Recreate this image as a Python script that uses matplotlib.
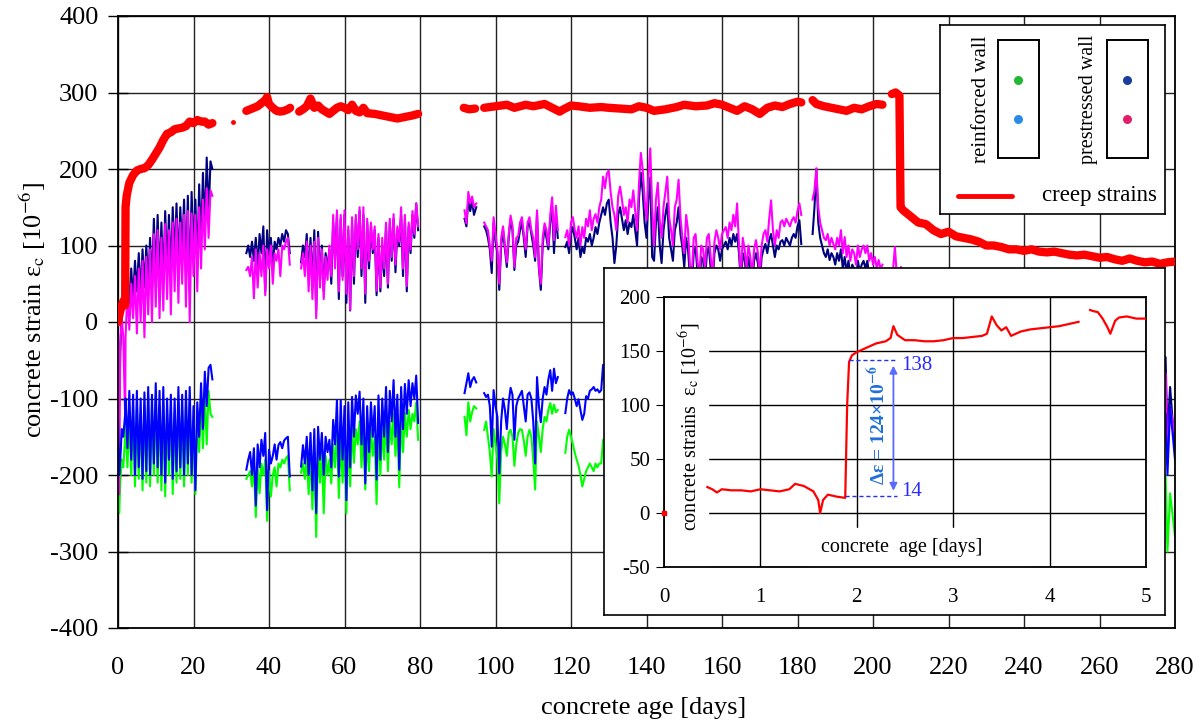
import numpy as np
import matplotlib
matplotlib.use('Agg')
import matplotlib.pyplot as plt
from matplotlib.patches import Rectangle

# ---------------- data (concrete age [days], strain [1e-6]) ----------------
# first block, settling part (irregular sampling)
days_a0 = [0.0, 0.3, 0.6, 1.0, 1.4, 1.9]
navy_a0 = [-60, -110, -40, 10, 20, 30]
magenta_a0 = [0, -225, -30, 5, -20, -128]
blue_a0 = [-130, -200, -180, -140, -150, -120]
green_a0 = [-160, -250, -210, -180, -190, -150]

# readings every half day, block A starts at day 2
navy_a = [30, 60, 25, 70, 30, 80, 40, 90, 35, 95, 45, 100, 50, 110, 45, 135, 60, 140, 55, 130,
          50, 145, 70, 140, 60, 150, 80, 155, 70, 150, 90, 160, 60, 165, 40, 170, 90, 160, 70, 180,
          100, 195, 120, 215, 140, 210, 200]
magenta_a = [-20, 40, -10, 50, 5, 60, -15, 70, 0, 80, -20, 85, 10, 95, 0, 115, 20, 120, 5, 110,
             15, 128, 30, 120, 10, 130, 40, 135, 25, 130, 50, 140, 20, 145, 0, 142, 60, 140, 40, 150,
             70, 160, 95, 175, 110, 172, 165]
blue_a = [-100, -165, -90, -180, -95, -200, -90, -190, -100, -205, -92, -195, -85, -200, -95, -185,
          -80, -190, -90, -200, -85, -210, -100, -180, -95, -205, -100, -195, -85, -190, -95, -200,
          -90, -185, -85, -200, -110, -220, -105, -150, -80, -140, -65, -110, -60, -56, -75]
green_a = [-130, -190, -120, -200, -115, -215, -110, -205, -120, -220, -110, -210, -100, -215, -115,
           -200, -95, -210, -110, -220, -105, -228, -120, -200, -115, -225, -120, -210, -105, -205,
           -115, -215, -110, -200, -105, -210, -130, -225, -125, -170, -100, -165, -95, -160, -90,
           -120, -124]

# block B starts at day 34
navy_b = [90, 100, 85, 105, 80, 110, 70, 115, 90, 125, 40, 120, 85, 110, 70, 105, 95, 110, 100, 115,
          105, 120, 115, 90]
magenta_b = [68, 72, 60, 85, 31, 95, 45, 90, 60, 100, 35, 95, 70, 100, 50, 90, 80, 95, 60, 100,
             95, 105, 110, 75]
blue_b = [-193, -180, -170, -200, -165, -240, -160, -190, -154, -175, -145, -246, -167, -185, -175,
          -160, -180, -161, -157, -165, -155, -152, -150, -202]
green_b = [-205, -200, -195, -215, -190, -255, -190, -224, -185, -200, -180, -260, -195, -228, -200,
           -190, -215, -185, -190, -180, -185, -178, -175, -220]

# block C starts at day 48.5
navy_c = [78, 100, 85, 115, 60, 110, 45, 120, 15, 118, 60, 100, 40, 90, 70, 95, 50, 130, 80, 140,
          30, 135, 60, 140, 25, 120, 15, 130, 50, 135, 85, 145, 60, 140, 25, 130, 70, 125, 90, 120,
          35, 110, 40, 100, 60, 125, 45, 130, 80, 135, 65, 120, 100, 140, 60, 135, 40, 125, 90, 140,
          110, 155, 120]
magenta_c = [70, 90, 60, 105, 40, 100, 30, 105, 5, 110, 45, 95, 30, 85, 55, 100, 60, 140, 70, 146,
             40, 140, 55, 146, 37, 125, 16, 137, 60, 140, 95, 150, 70, 150, 37, 135, 80, 130, 95, 125,
             41, 115, 45, 110, 70, 130, 50, 135, 85, 141, 75, 125, 105, 150, 70, 140, 47, 130, 95, 145,
             115, 155, 125]
blue_c = [-189, -161, -185, -150, -200, -145, -220, -140, -250, -137, -180, -145, -200, -150, -170,
          -154, -190, -128, -160, -102, -202, -102, -180, -110, -233, -105, -190, -98, -150, -96,
          -120, -91, -160, -100, -211, -110, -170, -105, -150, -110, -206, -96, -180, -100, -150,
          -85, -170, -90, -130, -76, -150, -95, -193, -85, -140, -81, -120, -76, -110, -80, -100,
          -70, -132]
green_c = [-197, -185, -205, -175, -225, -170, -245, -165, -281, -160, -210, -170, -250, -175, -200,
           -180, -211, -160, -190, -140, -230, -150, -210, -150, -250, -140, -215, -135, -184, -140,
           -160, -130, -190, -140, -219, -150, -195, -140, -175, -150, -238, -130, -200, -140, -180,
           -125, -195, -130, -160, -120, -175, -130, -216, -125, -170, -119, -150, -115, -140, -120,
           -130, -105, -154]

# block D, short run
days_d = [91.8, 92.3, 92.8, 93.3, 93.8, 94.3, 94.9]
navy_d = [135, 125, 160, 145, 158, 140, 150]
magenta_d = [146, 129, 170, 155, 164, 150, 155]
blue_d = [-93, -80, -67, -85, -76, -72, -79]
green_d = [-124, -148, -105, -130, -118, -110, -113]

# block E1 starts at day 97
navy_e1 = [125, 120, 110, 95, 64, 130, 105, 90, 42, 100, 120, 95, 72, 110, 135, 120, 68, 100, 105, 120,
           130, 110, 85, 125, 130, 115, 100, 80, 140, 70, 42, 100, 125, 110, 95, 130, 150, 90, 140, 110]
magenta_e1 = [130, 125, 120, 100, 80, 137, 115, 95, 50, 110, 125, 100, 78, 115, 139, 125, 72, 110, 112,
              130, 137, 115, 95, 130, 137, 120, 110, 85, 146, 72, 50, 110, 129, 120, 100, 140, 163, 107,
              152, 120]
blue_e1 = [-93, -98, -95, -110, -163, -89, -110, -124, -198, -130, -100, -115, -140, -105, -86, -95,
           -154, -110, -100, -95, -90, -110, -130, -95, -92, -100, -130, -185, -72, -110, -131, -100,
           -85, -95, -75, -63, -90, -61, -80, -72]
green_e1 = [-141, -130, -150, -170, -202, -140, -160, -180, -237, -170, -150, -160, -175, -145, -141,
            -150, -188, -160, -145, -140, -141, -155, -175, -150, -141, -150, -180, -219, -130, -150,
            -170, -140, -124, -130, -115, -106, -120, -108, -118, -115]

# block E2 starts at day 118.5 (upper walls)
navy_e2 = [98, 105, 90, 115, 124, 110, 95, 110, 85, 98,
           90, 110, 105, 115, 100, 110, 124, 115, 130, 140,
           150, 140, 155, 160, 130, 110, 77, 100, 140, 150,
           135, 120, 133, 115, 130, 124, 140, 120, 100, 160,
           195, 170, 130, 110, 160, 189, 85, 80, 130, 150,
           100, 77, 120, 140, 155, 110, 95, 80, 120, 130,
           150, 115, 98, 72, 110, 95, 60, 45, 90, 98,
           65, 45, 85, 80, 55, 90, 98, 70, 50, 90,
           100, 95, 80, 95, 100, 105, 95, 110, 100, 115,
           105, 115, 90, 50, 90, 81, 60, 85, 70, 50,
           80, 90, 77, 50, 85, 95, 102, 90, 107, 115,
           100, 85, 100, 95, 105, 107, 100, 110, 105, 100,
           110, 115, 110, 125, 133, 102]
magenta_e2 = [111, 120, 100, 130, 137, 120, 110, 125, 100, 124,
              110, 135, 125, 146, 120, 135, 141, 130, 150, 160,
              190, 175, 194, 198, 170, 150, 140, 120, 165, 177,
              160, 140, 150, 130, 160, 150, 172, 145, 120, 180,
              221, 199, 160, 133, 190, 227, 150, 100, 160, 182,
              133, 110, 150, 170, 190, 137, 120, 100, 150, 160,
              186, 137, 110, 90, 140, 120, 75, 60, 110, 115,
              80, 60, 100, 95, 70, 110, 115, 85, 60, 105,
              120, 110, 95, 115, 120, 124, 110, 130, 120, 140,
              125, 155, 100, 60, 110, 95, 70, 100, 85, 60,
              95, 107, 90, 60, 100, 115, 120, 105, 135, 159,
              120, 100, 120, 110, 130, 133, 125, 135, 130, 125,
              133, 137, 130, 145, 155, 140]
# lower walls from day 118.5
blue_e2 = [-119, -100, -89, -95, -92, -100, -110, -101, -115, -128,
           -120, -97, -100, -90, -88, -85, -90, -88, -92, -89,
           -56, -80, -90, -85]
green_e2 = [-171, -150, -141, -150, -160, -171, -180, -188, -200, -215,
            -205, -195, -190, -185, -190, -195, -185, -190, -185, -185,
            -154, -180, -190, -185]

# block E3 starts at day 184 (upper walls)
navy_e3 = [115, 150, 200, 130, 110, 100, 90, 85, 95, 81, 90, 85, 75, 90, 80, 95, 70, 85, 65, 80,
           60, 75, 70, 55, 80, 65, 75, 80, 70, 80, 60, 70, 55, 65, 50, 60, 50, 55]
magenta_e3 = [160, 172, 201, 150, 130, 120, 110, 107, 115, 100, 110, 102, 95, 110, 100, 120, 90, 111,
              85, 100, 80, 95, 90, 75, 100, 85, 95, 100, 90, 100, 80, 90, 75, 85, 70, 81, 70, 75]

# remaining upper readings (mostly behind the inset)
days_e4 = [203.5, 205.0, 205.8, 206.6, 207.4, 208.2, 215, 235, 255, 275.0, 277.5, 278.0, 278.7, 280.0]
navy_e4 = [30, 40, 50, 30, 40, 20, 10, 0, -10, -40, -46, -150, -85, -170]
magenta_e4 = [40, 50, 98, 40, 72, 30, 20, 10, 0, -60, -67, -180, -110, -150]
days_tail = [275.0, 277.5, 278.0, 278.7, 280.0]
blue_tail = [-100, -120, -200, -110, -180]
green_tail = [-190, -200, -300, -224, -280]

# creep strains (red)
red_a_days = [0, 0.5, 1, 1.5, 1.9, 2.0, 2.3, 3, 4, 5, 6, 7, 8, 9, 10, 11, 12, 13, 14, 15,
              16, 17, 18, 19, 20, 21, 22, 23, 24, 25]
red_a = [0, 12, 22, 28, 22, 150, 165, 182, 192, 198, 200, 201, 205, 212, 220, 228, 238, 246, 248, 252,
         253, 254, 256, 262, 260, 264, 262, 262, 258, 260]
red_dot_day = [30.5]
red_dot = [261]
red_b_days = [34, 35, 36, 37, 38, 39, 39.5, 40, 41, 42, 43, 44, 45, 45.6]
red_b = [276, 278, 280, 282, 286, 290, 294, 285, 280, 276, 275, 276, 278, 280]
red_c_days = [48, 49, 50, 51, 52, 53, 54, 55, 56, 57, 58, 59, 60, 61, 62, 63, 64, 65, 66,
              68, 70, 72, 74, 76, 78, 79.5]
red_c = [275, 278, 282, 292, 280, 283, 278, 275, 272, 276, 280, 282, 280, 277, 284, 276, 274, 280, 273,
         272, 270, 268, 266, 268, 270, 272]
red_d_days = [91.6, 93.0, 94.6]
red_d = [280, 278, 279]
red_e_days = [97, 100, 103, 105, 108, 110, 113, 115, 117, 118, 120, 122, 125, 128, 130, 133, 136, 138,
              140, 142, 145, 148, 150, 153, 156, 158, 160, 162, 164, 166, 168, 170, 172, 174, 176, 178,
              180, 181]
red_e = [280, 282, 284, 280, 284, 282, 285, 280, 275, 278, 283, 282, 280, 281, 280, 279, 278, 282,
         280, 276, 278, 281, 284, 282, 283, 286, 284, 280, 276, 282, 278, 272, 280, 283, 281, 285,
         288, 287]
red_f_days = [184, 185, 187, 189, 191, 193, 195, 197, 199, 201, 202.5]
red_f = [290, 285, 282, 280, 278, 276, 280, 278, 282, 285, 284]
red_g_days = [205, 206, 207, 207.3, 208, 210, 212, 214, 216, 218, 220, 222, 224, 226, 228, 230, 232,
              234, 236, 238, 240, 242, 244, 246, 248, 250, 252, 254, 256, 258, 260, 262, 264, 266,
              268, 270, 272, 274, 276, 278, 280]
red_g = [298, 300, 296, 150, 146, 138, 130, 128, 120, 115, 118, 112, 110, 108, 105, 100, 100, 98, 95,
         95, 93, 95, 92, 91, 92, 90, 88, 87, 88, 86, 84, 85, 82, 80, 83, 80, 78, 79, 76, 78, 79]

# inset: first five days
ins_days_0 = [0.0]
ins_0 = [0]
ins_days_1 = [0.45, 0.5, 0.55, 0.6, 0.7, 0.8, 0.9, 1.0, 1.1, 1.2, 1.3, 1.36, 1.45, 1.55, 1.6, 1.62,
              1.65, 1.7, 1.8, 1.88, 1.9, 1.92, 1.95, 2.0, 2.1, 2.2, 2.3, 2.35, 2.38, 2.42, 2.5, 2.6,
              2.7, 2.8, 2.9, 3.0, 3.1, 3.2, 3.3, 3.35, 3.4, 3.45, 3.5, 3.55, 3.6, 3.7, 3.8, 3.9, 4.0,
              4.1, 4.2, 4.3]
ins_1 = [24, 22, 19, 22, 21, 21, 20, 22, 21, 20, 22, 27, 25, 20, 12, 0,
         12, 17, 15, 14, 100, 140, 146, 149, 153, 157, 159, 162, 173, 165, 160, 160,
         159, 159, 160, 162, 162, 163, 164, 166, 182, 174, 169, 172, 164, 168, 170, 171, 172,
         173, 175, 177]
ins_days_2 = [4.42, 4.45, 4.5, 4.55, 4.6, 4.63, 4.68, 4.72, 4.8, 4.9, 5.0]
ins_2 = [188, 187, 186, 180, 172, 166, 178, 181, 182, 180, 180]


def half_days(start, vals):
    return start + 0.5 * np.arange(len(vals))


plt.rcParams['font.family'] = ['Liberation Serif', 'DejaVu Serif']
plt.rcParams['mathtext.fontset'] = 'stix'
plt.rcParams['axes.unicode_minus'] = False

W, H = 1202, 725
fig = plt.figure(figsize=(W / 100, H / 100), dpi=100)


def box(x0, y0, x1, y1):
    # pixel box, origin top-left -> figure fraction
    return [x0 / W, 1 - y1 / H, (x1 - x0) / W, (y1 - y0) / H]


NAVY, MAG, BLUE, GREEN, RED = '#000080', '#ff00ff', '#0000ff', '#00ff00', '#ff0000'

ax = fig.add_axes(box(118, 16, 1175, 628))

upper = [
    (days_a0 + list(half_days(2.0, navy_a)), navy_a0 + navy_a, days_a0 + list(half_days(2.0, magenta_a)), magenta_a0 + magenta_a),
    (half_days(34.0, navy_b), navy_b, half_days(34.0, magenta_b), magenta_b),
    (half_days(48.5, navy_c), navy_c, half_days(48.5, magenta_c), magenta_c),
    (days_d, navy_d, days_d, magenta_d),
    (half_days(97.0, navy_e1), navy_e1, half_days(97.0, magenta_e1), magenta_e1),
    (half_days(118.5, navy_e2), navy_e2, half_days(118.5, magenta_e2), magenta_e2),
    (half_days(184.0, navy_e3), navy_e3, half_days(184.0, magenta_e3), magenta_e3),
    (days_e4, navy_e4, days_e4, magenta_e4),
]
lower = [
    (days_a0 + list(half_days(2.0, blue_a)), blue_a0 + blue_a, days_a0 + list(half_days(2.0, green_a)), green_a0 + green_a),
    (half_days(34.0, blue_b), blue_b, half_days(34.0, green_b), green_b),
    (half_days(48.5, blue_c), blue_c, half_days(48.5, green_c), green_c),
    (days_d, blue_d, days_d, green_d),
    (half_days(97.0, blue_e1), blue_e1, half_days(97.0, green_e1), green_e1),
    (half_days(118.5, blue_e2), blue_e2, half_days(118.5, green_e2), green_e2),
    (days_tail, blue_tail, days_tail, green_tail),
]
for xn, yn, xm, ym in upper:
    ax.plot(xn, yn, color=NAVY, lw=1.5, zorder=2)
    ax.plot(xm, ym, color=MAG, lw=1.5, zorder=2.1)
for xb, yb, xg, yg in lower:
    ax.plot(xg, yg, color=GREEN, lw=1.5, zorder=2)
    ax.plot(xb, yb, color=BLUE, lw=1.5, zorder=2.1)

for xr, yr in [(red_a_days, red_a), (red_b_days, red_b), (red_c_days, red_c), (red_d_days, red_d),
               (red_e_days, red_e), (red_f_days, red_f), (red_g_days, red_g)]:
    ax.plot(xr, yr, color=RED, lw=6, solid_capstyle='round', solid_joinstyle='round', zorder=3)
ax.plot(red_dot_day, red_dot, 'o', color=RED, ms=2.5, zorder=3)

ax.set_xlim(0, 280)
ax.set_ylim(-400, 400)
ax.set_xticks(np.arange(0, 281, 20))
ax.set_yticks(np.arange(-400, 401, 100))
ax.grid(True, color='#222222', lw=1)
ax.set_axisbelow(True)
ax.tick_params(axis='x', direction='in', length=0, pad=21, labelsize=19)
ax.tick_params(axis='y', direction='inout', length=14, width=1, pad=7, labelsize=19)
for s in ax.spines.values():
    s.set_linewidth(1.3)
fig.text(644 / W, 1 - 708 / H, 'concrete age [days]', fontsize=19, ha='center', va='center')
fig.text(33 / W, 1 - 310 / H, r'concrete strain ε$_{\rm c}$ [10$^{-6}$]', fontsize=19,
         rotation=90, ha='center', va='center')

# legend panel
lg = fig.add_axes(box(940, 25, 1165, 214))
lg.set_xlim(940, 1165)
lg.set_ylim(214, 25)
lg.set_xticks([])
lg.set_yticks([])
for s in lg.spines.values():
    s.set_linewidth(1.2)
lg.add_patch(Rectangle((998, 40), 41, 118, fill=False, lw=1.4, ec='k'))
lg.add_patch(Rectangle((1107, 40), 41, 118, fill=False, lw=1.4, ec='k'))
lg.scatter([1018], [80], s=30, color='#22b833', zorder=3)
lg.scatter([1018], [119], s=30, color='#2b8ce8', zorder=3)
lg.scatter([1127], [80], s=30, color='#1a3c9c', zorder=3)
lg.scatter([1127], [119], s=30, color='#e0206a', zorder=3)
lg.text(982, 99, 'reinforced wall', rotation=90, fontsize=15, ha='center', va='center')
lg.text(1089, 99, 'prestressed wall', rotation=90, fontsize=14.5, ha='center', va='center')
lg.plot([958, 1012], [196, 196], color=RED, lw=3.5, solid_capstyle='round')
lg.text(1042, 196, 'creep strains', fontsize=16.5, ha='left', va='center')

# inset frame and inset axes
fr = fig.add_axes(box(604, 268, 1165, 615))
fr.set_xticks([])
fr.set_yticks([])
for s in fr.spines.values():
    s.set_linewidth(1.2)

ins = fig.add_axes(box(664, 297, 1146, 567))
ins.set_xlim(0, 5)
ins.set_ylim(-50, 200)
ins.set_xticks(range(0, 6))
ins.set_yticks(range(-50, 201, 50))
ins.grid(True, color='k', lw=1)
ins.set_axisbelow(True)
ins.tick_params(axis='x', direction='in', length=0, pad=15, labelsize=15)
ins.tick_params(axis='y', direction='out', length=6, pad=4, labelsize=15)
for s in ins.spines.values():
    s.set_linewidth(1.3)
ins.add_patch(Rectangle((0.01, -49), 0.45, 248, color='white', zorder=1))
ins.add_patch(Rectangle((1.55, -49), 2.2, 35, color='white', zorder=1))

ins.plot(ins_days_1, ins_1, color=RED, lw=1.6, zorder=3)
ins.plot(ins_days_2, ins_2, color=RED, lw=1.6, zorder=3)
ins.plot(ins_days_0, ins_0, 's', color=RED, ms=3, zorder=3, clip_on=False)

ins.text(0.27, 80, r'concrete strains  ε$_{\rm c}$ [10$^{-6}$]', rotation=90, fontsize=14.5,
         ha='center', va='center', zorder=4)
ins.text(2.47, -32, 'concrete  age [days]', fontsize=14.5, ha='center', va='center', zorder=4)

ins.plot([1.92, 2.42], [141.7, 141.7], ls=(0, (3, 2)), color='#2030ff', lw=1, zorder=3)
ins.plot([1.88, 2.42], [16, 16], ls=(0, (3, 2)), color='#2030ff', lw=1, zorder=3)
ins.annotate('', xy=(2.38, 139), xytext=(2.38, 18),
             arrowprops=dict(arrowstyle='<|-|>', color='#5a6aff', lw=1.3, mutation_scale=11), zorder=3)
ins.text(2.46, 137, '138', color='#2a2aff', fontsize=15, ha='left', va='center', zorder=4)
ins.text(2.46, 20, '14', color='#2a2aff', fontsize=15, ha='left', va='center', zorder=4)
ins.text(2.21, 82, r'Δε = 124×10$^{\mathbf{-6}}$', rotation=90, fontsize=14, fontweight='bold',
         color='#1f6fd8', ha='center', va='center', zorder=4)

fig.savefig('out.png', dpi=100, facecolor='white')
plt.close(fig)
